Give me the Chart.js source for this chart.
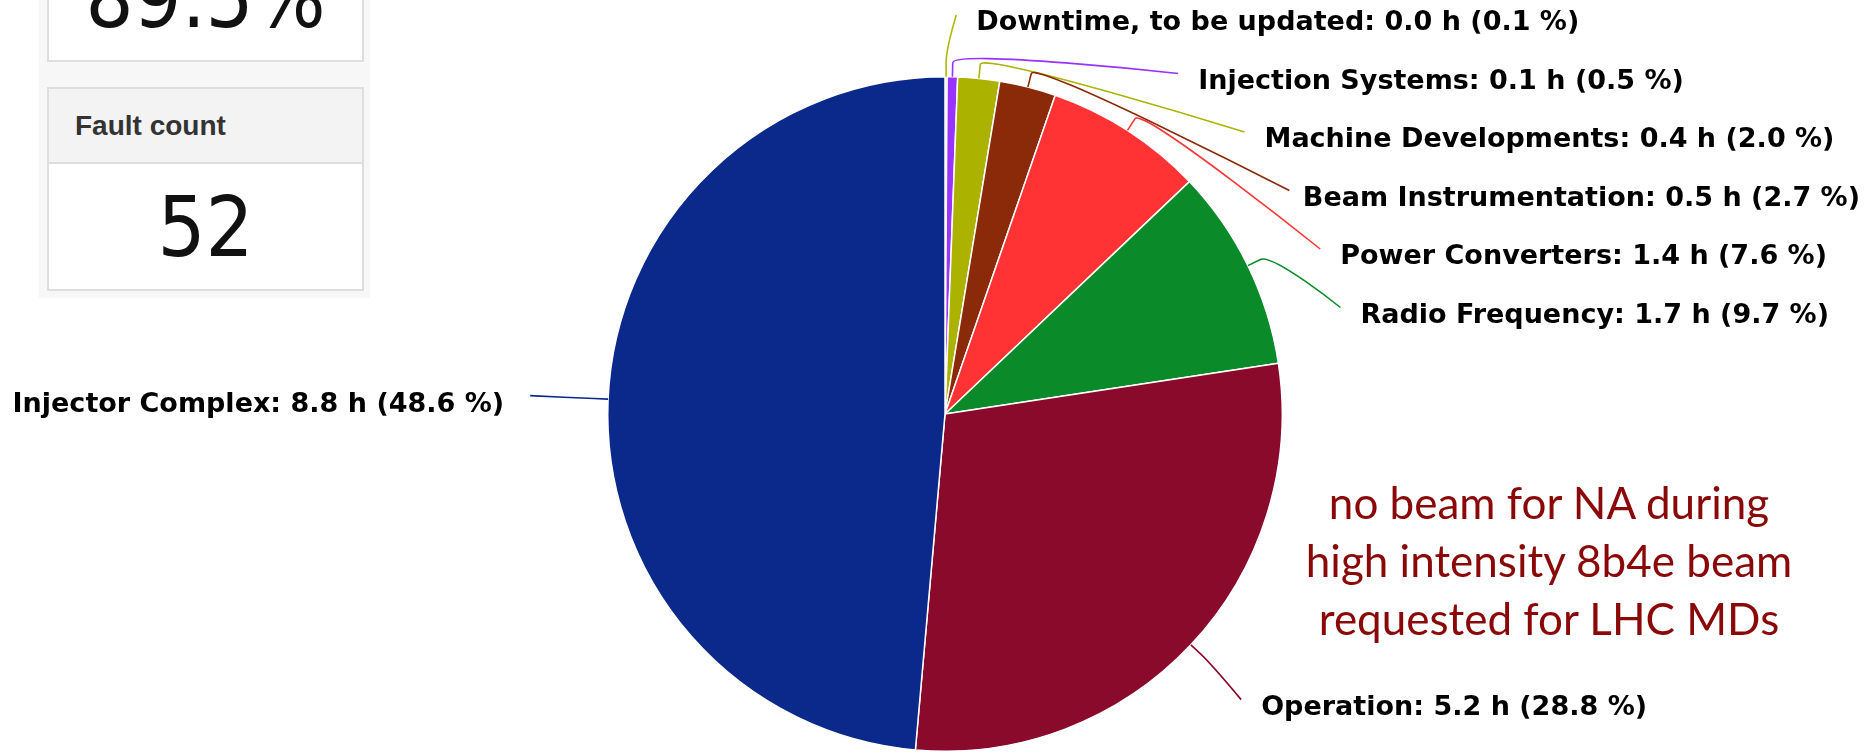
<!DOCTYPE html>
<html lang="en">

<head>
    <meta charset="UTF-8">
    <title>Downtime by system</title>
    <!-- Chart.js -->
    <script src="https://cdn.jsdelivr.net/npm/chart.js@4.4.1/dist/chart.umd.min.js"></script>
    <style>
        body {
            margin: 0;
            width: 1873px;
            height: 753px;
            overflow: hidden;
            position: relative;
            background: #fff;
        }

        #chart-box {
            position: absolute;
            left: 0;
            top: 0;
            width: 1873px;
            height: 753px;
        }

        /* stat panel on the left */
        .side {
            position: absolute;
            left: 39px;
            top: 0;
            width: 331px;
            height: 298px;
            background: #f7f7f7;
        }

        .card {
            position: absolute;
            left: 47px;
            width: 313px;
            background: #fff;
            border: 2px solid #dedede;
        }

        .card-head {
            position: absolute;
            left: 0;
            top: 0;
            width: 313px;
            height: 73px;
            background: #f3f3f3;
            border-bottom: 2px solid #dedede;
        }

        .big {
            position: absolute;
            left: 47px;
            width: 317px;
            text-align: center;
            font-family: "Liberation Sans Narrow", "DejaVu Sans Condensed", sans-serif;
            font-size: 84px;
            line-height: 84px;
            color: #111;
        }

        .head-text {
            position: absolute;
            left: 75px;
            top: 112px;
            font-family: "Liberation Sans", sans-serif;
            font-weight: bold;
            font-size: 28px;
            line-height: 28px;
            color: #333;
        }

        .note {
            position: absolute;
            left: 1249px;
            width: 600px;
            top: 473px;
            text-align: center;
            font-family: Lato, sans-serif;
            font-size: 44px;
            line-height: 58px;
            color: #8a0808;
        }
    </style>
</head>

<body>
    <div id="chart-box">
        <canvas id="pie"></canvas>
    </div>

    <div class="side"></div>
    <div class="card" style="top:-40px; height:98px;"></div>
    <div class="big" style="top:-44px;">89.5%</div>

    <div class="card" style="top:87px; height:200px;">
        <div class="card-head"></div>
    </div>
    <div class="head-text">Fault count</div>
    <div class="big" style="top:185px;">52</div>

    <div class="note">no beam for NA during<br>high intensity 8b4e beam<br>requested for LHC MDs</div>

    <script>
        // slice data, clockwise from 12 o'clock
        const categories = ['Downtime, to be updated', 'Injection Systems', 'Machine Developments',
            'Beam Instrumentation', 'Power Converters', 'Radio Frequency', 'Operation', 'Injector Complex'];
        const hours = ['0.0', '0.1', '0.4', '0.5', '1.4', '1.7', '5.2', '8.8'];
        const percents = [0.1, 0.5, 2.0, 2.7, 7.6, 9.7, 28.8, 48.6];

        const colors = ['#b3b600', '#9933ff', '#abb300', '#8a2a08', '#ff3333', '#0b8a2a', '#8a0a2c', '#0a298a'];

        // highcharts-like outside labels with soft connectors
        const pieLabels = {
            id: 'pieLabels',
            afterDatasetsDraw(chart) {
                const ctx = chart.ctx;
                const arcs = chart.getDatasetMeta(0).data;
                const cx = arcs[0].x, cy = arcs[0].y, r = arcs[0].outerRadius;
                const R = r + 80;
                const step = 58.5, top = 15;
                const W = chart.width;

                ctx.save();
                ctx.font = 'bold 27px "DejaVu Sans"';

                const items = arcs.map((a, i) => {
                    const ang = (a.startAngle + a.endAngle) / 2;
                    return {
                        i: i,
                        cos: Math.cos(ang),
                        sin: Math.sin(ang),
                        ny: cy + R * Math.sin(ang),
                        text: categories[i] + ': ' + hours[i] + ' h (' + percents[i].toFixed(1) + ' %)'
                    };
                });

                // push labels apart on each side
                [true, false].forEach(function (right) {
                    const list = items.filter(it => (it.cos >= 0) === right).sort((a, b) => a.ny - b.ny);
                    let prev = -Infinity;
                    list.forEach(function (it) {
                        const y = Math.max(it.ny, top, prev + step);
                        it.y = y;
                        it.atTop = (y === top);
                        prev = y;
                    });
                });

                items.forEach(function (it) {
                    const left = it.cos < 0;
                    const gy = it.atTop ? it.ny : it.y;
                    const dy = Math.max(-R, Math.min(R, gy - cy));
                    const gx = cx + (left ? -1 : 1) * Math.sqrt(R * R - dy * dy);

                    const sx = cx + r * it.cos, sy = cy + r * it.sin;
                    const bx = cx + (r + 14) * it.cos, by = cy + (r + 14) * it.sin;
                    const ex = gx + (left ? 2 : (it.atTop ? 10 : -8)), ey = it.y;

                    ctx.beginPath();
                    ctx.moveTo(ex, ey);
                    ctx.bezierCurveTo(ex, ey, 2 * bx - sx, 2 * by - sy, bx, by);
                    ctx.lineTo(sx, sy);
                    ctx.strokeStyle = colors[it.i];
                    ctx.lineWidth = 1.6;
                    ctx.stroke();

                    const w = ctx.measureText(it.text).width;
                    ctx.fillStyle = '#000';
                    ctx.textBaseline = 'middle';
                    if (left) {
                        ctx.textAlign = 'right';
                        ctx.fillText(it.text, gx - 24, it.y + 9);
                    } else {
                        let tx = gx + (it.atTop ? 30 : 12);
                        if (tx + w > W - 13) tx = W - 13 - w;
                        ctx.textAlign = 'left';
                        ctx.fillText(it.text, tx, it.y + 8);
                    }
                });
                ctx.restore();
            }
        };

        const ctx = document.getElementById('pie').getContext('2d');
        const pieChart = new Chart(ctx, {
            type: 'pie',
            data: {
                labels: categories,
                datasets: [{
                    data: percents,
                    backgroundColor: colors,
                    borderColor: '#ffffff',
                    borderWidth: 1.5,
                    hoverOffset: 0
                }]
            },
            options: {
                responsive: true,
                maintainAspectRatio: false,
                animation: false,
                events: [],
                layout: {
                    padding: { left: 607, right: 590, top: 76, bottom: 1 }
                },
                plugins: {
                    legend: { display: false },
                    tooltip: { enabled: false }
                }
            },
            plugins: [pieLabels]
        });
    </script>
</body>

</html>
